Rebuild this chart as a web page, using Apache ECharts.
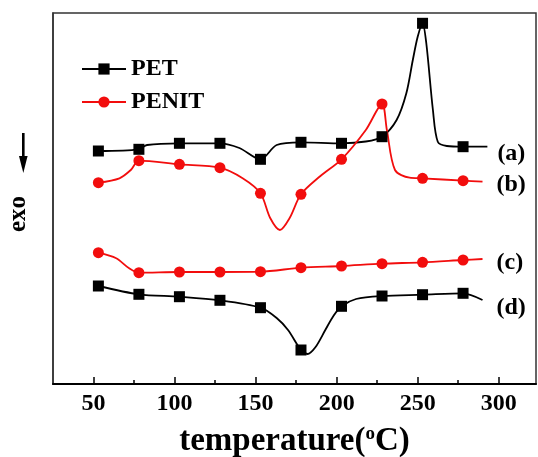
<!DOCTYPE html>
<html style="height: 100%">
<head>
    <meta charset="utf-8">
</head>
<body style="height: 100%; margin: 0">
<div id="container" style="width: 538px; height: 457px"></div>

<script type="text/javascript" src="https://cdn.jsdelivr.net/npm/echarts@6/dist/echarts.min.js"></script>
<script type="text/javascript">
    // temperatures (°C) where the symbols sit
    var markerT = [53, 78, 103, 128, 153, 178, 203, 228, 253, 278];
    var majorTicks = [50, 100, 150, 200, 250, 300];
    var minorTicks = [75, 125, 175, 225, 275];

    // DSC traces, [temperature, heat flow (a.u.)]
    var curveA = [[53, 233], [78, 234.7], [83, 239], [103, 240.7], [128, 240.7], [140, 236], [153, 224.7],
        [163, 239], [178, 241.7], [203, 240.7], [218, 242.5], [228, 247.3], [237, 264], [243, 290.7],
        [247, 324], [250, 347.3], [253, 360.7], [255.3, 341], [259.4, 274], [262.4, 242.3], [268, 238],
        [278, 237.3], [293, 237.3]];
    var curveB = [[53, 201.3], [66, 205.7], [73, 214], [78, 223.3], [103, 219.7], [128, 216.3], [142, 205.7],
        [153, 190.7], [159, 166], [165, 154], [171, 166], [178, 189.7], [190, 208], [203, 224.7], [218, 254],
        [228, 280], [231, 254], [236, 214], [245, 206.3], [253, 205.7], [278, 203.3], [290, 202.3]];
    var curveC = [[53, 131.3], [64, 125.7], [72, 115.7], [78, 111.3], [103, 112], [128, 112], [153, 112.3],
        [178, 116.3], [203, 118], [228, 120.3], [253, 121.7], [278, 124], [290, 125]];
    var curveD = [[53, 98], [78, 89.7], [103, 87.3], [128, 83.7], [153, 76.3], [163, 66], [170, 54], [178, 34],
        [182, 30], [187, 37], [193, 54], [198, 68], [203, 77.7], [212, 85], [228, 88], [253, 89.3],
        [278, 90.7], [290, 84]];

    var serif = '"Times New Roman", "Liberation Serif", serif';

    function withMarkers(points) {
        return points.map(function (p) {
            if (markerT.indexOf(p[0]) >= 0) return {value: p};
            return {value: p, symbol: 'none'};
        });
    }

    function trace(name, points, color, symbol, tag, offset) {
        return {
            name: name,
            type: 'line',
            data: withMarkers(points),
            smooth: 0.3,
            symbol: symbol,
            symbolSize: 11,
            showSymbol: true,
            lineStyle: {color: color, width: 1.8},
            itemStyle: {color: color},
            animation: false,
            endLabel: {
                show: true,
                formatter: tag,
                distance: 0,
                offset: offset,
                color: '#000',
                fontFamily: serif,
                fontWeight: 'bold',
                fontSize: 24
            }
        };
    }

    var dom = document.getElementById('container');
    var myChart = echarts.init(dom);
    var option;

    option = {
        backgroundColor: '#fff',
        grid: {
            left: 53, right: 2, top: 13, bottom: 73,
            outerBoundsMode: 'none',
            show: true, borderColor: '#333', borderWidth: 1.5
        },
        legend: {
            data: ['PET', 'PENIT'],
            orient: 'vertical',
            left: 81,
            top: 57,
            padding: 0,
            itemWidth: 44,
            itemHeight: 14,
            itemGap: 9,
            textStyle: {fontFamily: serif, fontWeight: 'bold', fontSize: 24, color: '#000'}
        },
        xAxis: [{
            type: 'value',
            min: 25,
            max: 323,
            name: 'temperature({sup|o}C)',
            nameLocation: 'middle',
            nameGap: 41,
            nameTextStyle: {
                fontFamily: serif, fontWeight: 'bold', fontSize: 33, color: '#000',
                rich: {sup: {fontFamily: serif, fontWeight: 'bold', fontSize: 19, color: '#000', verticalAlign: 'top', padding: [0, 0, 12, 0]}}
            },
            axisLine: {lineStyle: {color: '#000', width: 2}},
            axisTick: {inside: true, length: 7, customValues: majorTicks, lineStyle: {color: '#000', width: 1.5}},
            axisLabel: {customValues: majorTicks, margin: 8, color: '#000', fontFamily: serif, fontWeight: 'bold', fontSize: 24},
            splitLine: {show: false}
        }, {
            type: 'value',
            position: 'bottom',
            min: 25,
            max: 323,
            axisLine: {show: false},
            axisTick: {inside: true, length: 4, customValues: minorTicks, lineStyle: {color: '#000', width: 1.5}},
            axisLabel: {show: false},
            splitLine: {show: false}
        }],
        yAxis: {
            type: 'value',
            min: 0,
            max: 371,
            name: 'exo',
            nameLocation: 'middle',
            nameRotate: 90,
            nameGap: 22,
            nameTextStyle: {fontFamily: serif, fontWeight: 'bold', fontSize: 25, color: '#000', padding: [0, 31, 0, 0]},
            axisLine: {show: true, lineStyle: {color: '#333', width: 1.5}},
            axisTick: {show: false},
            axisLabel: {show: false},
            splitLine: {show: false}
        },
        graphic: [{
            type: 'group',
            left: 19,
            top: 133,
            children: [{
                type: 'rect',
                shape: {x: 4, y: 0, width: 2.6, height: 26},
                style: {fill: '#000'}
            }, {
                type: 'polygon',
                shape: {points: [[1, 23], [9.6, 23], [5.3, 40]]},
                style: {fill: '#000'}
            }]
        }],
        series: [
            trace('PET', curveA, '#000', 'rect', '(a)', [10, 7]),
            trace('PENIT', curveB, '#f20d0d', 'circle', '(b)', [14, 3]),
            trace('PENIT', curveC, '#f20d0d', 'circle', '(c)', [14, 4]),
            trace('PET', curveD, '#000', 'rect', '(d)', [14, 8])
        ]
    };

    if (option && typeof option === 'object') {
        myChart.setOption(option);
    }
</script>
</body>
</html>
